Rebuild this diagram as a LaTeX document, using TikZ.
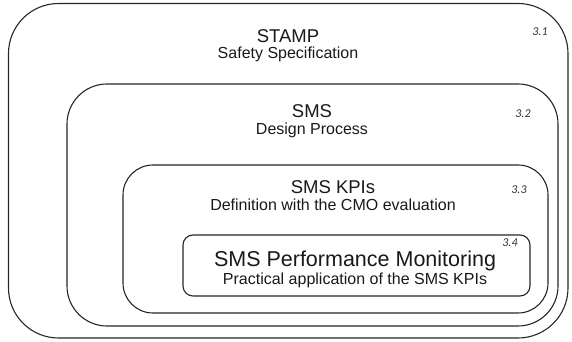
\documentclass[tikz,border=0pt]{standalone}
\usepackage{fontspec}
\setmainfont{Liberation Sans}
\newfontfamily\numfont{Carlito}
\usetikzlibrary{positioning}
\tikzset{
	layer/.style={draw=black!85, line width=1.1pt, inner sep=0pt},
	title/.style={anchor=base, font=\fontsize{18.5}{20}\selectfont, text=black!90},
	subtitle/.style={anchor=base, font=\fontsize{16}{18}\selectfont, text=black!90},
	secnum/.style={anchor=base, font=\numfont\itshape\fontsize{12}{14}\selectfont, text=black!80},
}

\begin{document}
\begin{tikzpicture}[x=1pt, y=1pt]
	\useasboundingbox (0,0) rectangle (572,342);
	
	% nested layers
	\node (stamp) [layer, rounded corners=50pt, minimum width=559.5pt, minimum height=334.5pt] at (288.25,171.25) {};
	\node (sms) [layer, rounded corners=40pt, minimum width=491pt, minimum height=242pt] at (312.5,137) {};
	\node (kpi) [layer, rounded corners=30pt, minimum width=425pt, minimum height=148pt] at (335.5,103) {};
	\node (spm) [layer, rounded corners=10pt, minimum width=347pt, minimum height=61pt] at (356.5,76.5) {};
	
	\node (stampT) [title] at (288,299) {STAMP};
	\node (stampS) [subtitle] at (288,283) {Safety Specification};
	\node (stampN) [secnum] at (540,306) {3.1};
	
	\node (smsT) [title] at (312,224) {SMS};
	\node (smsS) [subtitle] at (312,207) {Design Process};
	\node (smsN) [secnum] at (523,224) {3.2};
	
	\node (kpiT) [title] at (333,148) {SMS KPIs};
	\node (kpiS) [subtitle] at (333,131) {Definition with the CMO evaluation};
	\node (kpiN) [secnum] at (519,148) {3.3};
	
	\node (spmT) [title, font=\fontsize{21.5}{23}\selectfont] at (355,75) {SMS Performance Monitoring};
	\node (spmS) [subtitle] at (355,57) {Practical application of the SMS KPIs};
	\node (spmN) [secnum] at (510,95) {3.4};
	
\end{tikzpicture}
\end{document}
